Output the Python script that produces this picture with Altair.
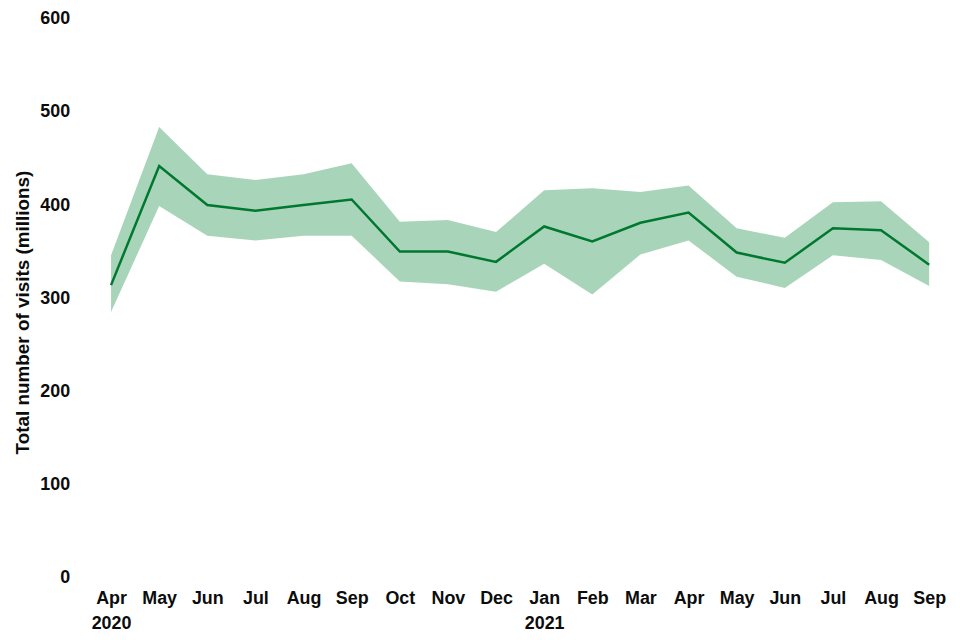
import altair as alt
import pandas as pd

months = ["Apr 2020", "May 2020", "Jun 2020", "Jul 2020", "Aug 2020", "Sep 2020",
          "Oct 2020", "Nov 2020", "Dec 2020", "Jan 2021", "Feb 2021", "Mar 2021",
          "Apr 2021", "May 2021", "Jun 2021", "Jul 2021", "Aug 2021", "Sep 2021"]
visits = [314, 442, 400, 394, 400, 406, 350, 350, 339, 377, 361, 381,
          392, 349, 338, 375, 373, 336]
upper = [346, 484, 433, 427, 433, 445, 382, 384, 371, 416, 418, 414,
         421, 375, 365, 403, 404, 360]
lower = [285, 399, 367, 362, 367, 367, 318, 315, 307, 337, 304, 347,
         362, 323, 311, 346, 341, 313]

df = pd.DataFrame({"month": months, "visits": visits, "upper": upper, "lower": lower})

FONT = "Liberation Sans"
GREEN = "#00782f"
BAND = "#a8d5ba"

x = alt.X(
    "month:O",
    sort=months,
    scale=alt.Scale(type="point", padding=0.482, align=0.679),
    axis=alt.Axis(
        title=None, labelAngle=0, ticks=False, tickSize=0, domain=False, grid=False,
        labelFont=FONT, labelFontSize=18, labelFontWeight="bold", labelColor="#0b0c0c",
        labelPadding=12, labelLineHeight=25,
        labelExpr="indexof(['Apr 2020','Jan 2021'], datum.value) >= 0 ? split(datum.value, ' ') : split(datum.value, ' ')[0]",
    ),
)

yscale = alt.Scale(domain=[0, 600])

band = alt.Chart(df).mark_area(color=BAND, opacity=1).encode(
    x=x,
    y=alt.Y("lower:Q", scale=yscale,
            axis=alt.Axis(title="Total number of visits (millions)", values=[0, 100, 200, 300, 400, 500, 600],
                          ticks=False, tickSize=0, domain=False, grid=False,
                          labelFont=FONT, labelFontSize=18, labelFontWeight="bold", labelColor="#0b0c0c",
                          labelPadding=10,
                          titleFont=FONT, titleFontSize=19, titleFontWeight="bold", titleColor="#0b0c0c",
                          titleX=-57, titleY=295, titleBaseline="middle")),
    y2="upper:Q",
)

line = alt.Chart(df).mark_line(color=GREEN, strokeWidth=2.5).encode(
    x=x,
    y=alt.Y("visits:Q", scale=yscale),
)

chart = (band + line).properties(
    width=870, height=562,
    autosize=alt.AutoSizeParams(type="none"),
    padding={"left": 72, "top": 9, "right": 8, "bottom": 56},
).configure_view(stroke=None)

chart.save("out.html", embed_options={"renderer": "svg", "actions": False})
